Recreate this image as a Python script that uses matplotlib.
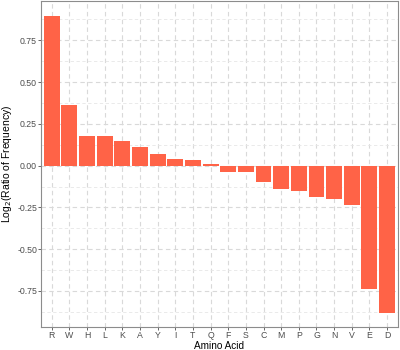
import matplotlib
matplotlib.use("Agg")
import matplotlib.pyplot as plt
from matplotlib.ticker import MultipleLocator

# amino acids and log2 frequency ratio
amino = ['R', 'W', 'H', 'L', 'K', 'A', 'Y', 'I', 'T', 'Q',
         'F', 'S', 'C', 'M', 'P', 'G', 'N', 'V', 'E', 'D']
log2_ratio = [0.897, 0.361, 0.179, 0.176, 0.150, 0.114, 0.072, 0.040, 0.032, 0.010,
              -0.036, -0.036, -0.100, -0.140, -0.150, -0.185, -0.200, -0.235, -0.736, -0.879]
yticks = [-0.75, -0.50, -0.25, 0.00, 0.25, 0.50, 0.75]

plt.rcParams['font.family'] = ['Liberation Sans', 'DejaVu Sans']

fig = plt.figure(figsize=(4, 3.5), dpi=100)
ax = fig.add_axes([0.103, 0.067, 0.891, 0.930])

x = list(range(1, len(amino) + 1))
ax.bar(x, log2_ratio, width=0.9, color='#FF6347', zorder=3)

ax.set_xlim(0.4, len(amino) + 0.6)
ax.set_ylim(-0.963, 0.985)
ax.set_xticks(x)
ax.set_xticklabels(amino)
ax.set_yticks(yticks)
ax.set_yticklabels(['%.2f' % v for v in yticks])
ax.yaxis.set_minor_locator(MultipleLocator(0.125))

# ggplot-like dashed grid
ax.grid(which='major', axis='both', color='#D9D9D9', linestyle=(0, (4, 3)), linewidth=0.8, zorder=0)
ax.grid(which='minor', axis='y', color='#E6E6E6', linestyle=(0, (4, 3)), linewidth=0.6, zorder=0)

for s in ax.spines.values():
    s.set_color('#8C8C8C')
    s.set_linewidth(0.8)

ax.tick_params(which='major', length=2, width=0.6, color='#4D4D4D', labelcolor='#4D4D4D', labelsize=6.3, pad=1)
ax.tick_params(which='minor', length=0)

ax.set_xlabel('Amino Acid', fontsize=7.2, va='center')
ax.set_ylabel('Log$_2$(Ratio of Frequency)', fontsize=7.5, va='center')
ax.xaxis.set_label_coords(0.5, -0.06)
ax.yaxis.set_label_coords(-0.096, 0.5)

fig.savefig('out.png', dpi=100)
